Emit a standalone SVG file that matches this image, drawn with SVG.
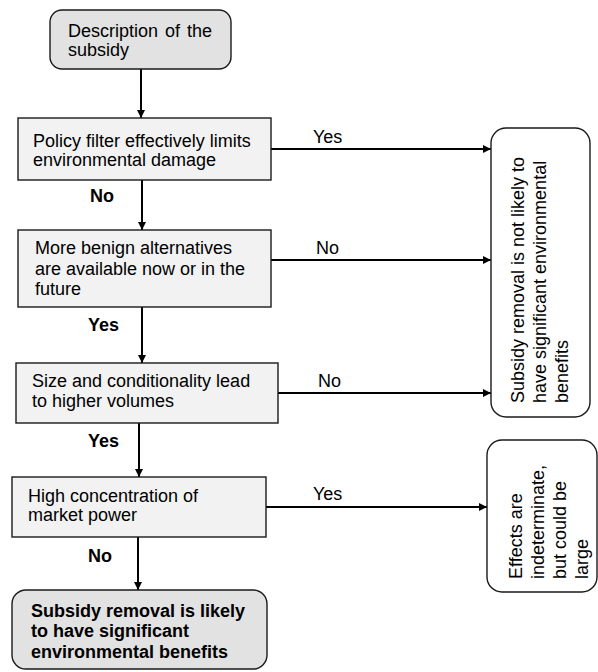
<svg xmlns="http://www.w3.org/2000/svg" width="598" height="672" viewBox="0 0 598 672">
<defs>
<marker id="ah" markerUnits="userSpaceOnUse" markerWidth="9" markerHeight="9" refX="8" refY="4" orient="auto">
<path d="M0,0 L8,4 L0,8 z" fill="#000"/>
</marker>
<style>
.t{font-family:"Liberation Sans",Arial,sans-serif;font-size:18px;fill:#000}
.b{font-family:"Liberation Sans",Arial,sans-serif;font-size:18px;font-weight:bold;fill:#000}
.box{stroke:#1a1a1a;stroke-width:1.4}
.dark{fill:#e2e2e2}
.light{fill:#f2f2f2}
.white{fill:#fff}
.c{stroke:#000;stroke-width:2;fill:none;marker-end:url(#ah)}
</style>
</defs>
<rect width="598" height="672" fill="#fff"/>
<g id="connectors">
<line class="c" x1="141" y1="69" x2="141" y2="118"/>
<line class="c" x1="142" y1="180" x2="142" y2="230"/>
<line class="c" x1="142" y1="307" x2="142" y2="363"/>
<line class="c" x1="139" y1="423" x2="139" y2="477"/>
<line class="c" x1="138" y1="537" x2="138" y2="590"/>
<line class="c" x1="271" y1="149" x2="491" y2="149"/>
<line class="c" x1="271" y1="260" x2="491" y2="260"/>
<line class="c" x1="278" y1="393" x2="491" y2="393"/>
<line class="c" x1="266" y1="507" x2="487" y2="507"/>
<text class="b" x="90" y="202">No</text>
<text class="b" x="88" y="331">Yes</text>
<text class="b" x="88" y="447">Yes</text>
<text class="b" x="88" y="562">No</text>
<text class="t" x="313" y="143">Yes</text>
<text class="t" x="316" y="254">No</text>
<text class="t" x="318" y="387">No</text>
<text class="t" x="313" y="500">Yes</text>
</g>
<g id="start">
<rect class="box dark" x="50" y="10" width="181" height="59" rx="12"/>
<text class="t" x="68" y="37" word-spacing="2">Description of the</text>
<text class="t" x="68" y="56">subsidy</text>
</g>
<g id="policy">
<rect class="box light" x="18" y="118" width="253" height="62"/>
<text class="t" x="33" y="147">Policy filter effectively limits</text>
<text class="t" x="33" y="166">environmental damage</text>
</g>
<g id="alternatives">
<rect class="box light" x="18" y="230" width="253" height="77"/>
<text class="t" x="35" y="254">More benign alternatives</text>
<text class="t" x="35" y="275">are available now or in the</text>
<text class="t" x="35" y="295">future</text>
</g>
<g id="size">
<rect class="box light" x="16" y="363" width="262" height="60"/>
<text class="t" x="32" y="387">Size and conditionality lead</text>
<text class="t" x="32" y="407">to higher volumes</text>
</g>
<g id="concentration">
<rect class="box light" x="12" y="477" width="254" height="60"/>
<text class="t" x="28" y="502">High concentration of</text>
<text class="t" x="28" y="521">market power</text>
</g>
<g id="likely">
<rect class="box dark" x="12" y="590" width="255" height="79" rx="14"/>
<text class="b" x="31" y="617">Subsidy removal is likely</text>
<text class="b" x="31" y="637">to have significant</text>
<text class="b" x="31" y="658">environmental benefits</text>
</g>
<g id="notlikely">
<rect class="box white" x="491" y="128" width="99" height="289" rx="15"/>
<text class="t" transform="translate(524,403) rotate(-90)">Subsidy removal is not likely to<tspan x="0" dy="22">have significant environmental</tspan><tspan x="0" dy="22">benefits</tspan></text>
</g>
<g id="indeterminate">
<rect class="box white" x="487" y="440" width="110" height="152" rx="15"/>
<text class="t" transform="translate(522,579) rotate(-90)">Effects are<tspan x="0" dy="22">indeterminate,</tspan><tspan x="0" dy="22">but could be</tspan><tspan x="0" dy="22">large</tspan></text>
</g>
</svg>
